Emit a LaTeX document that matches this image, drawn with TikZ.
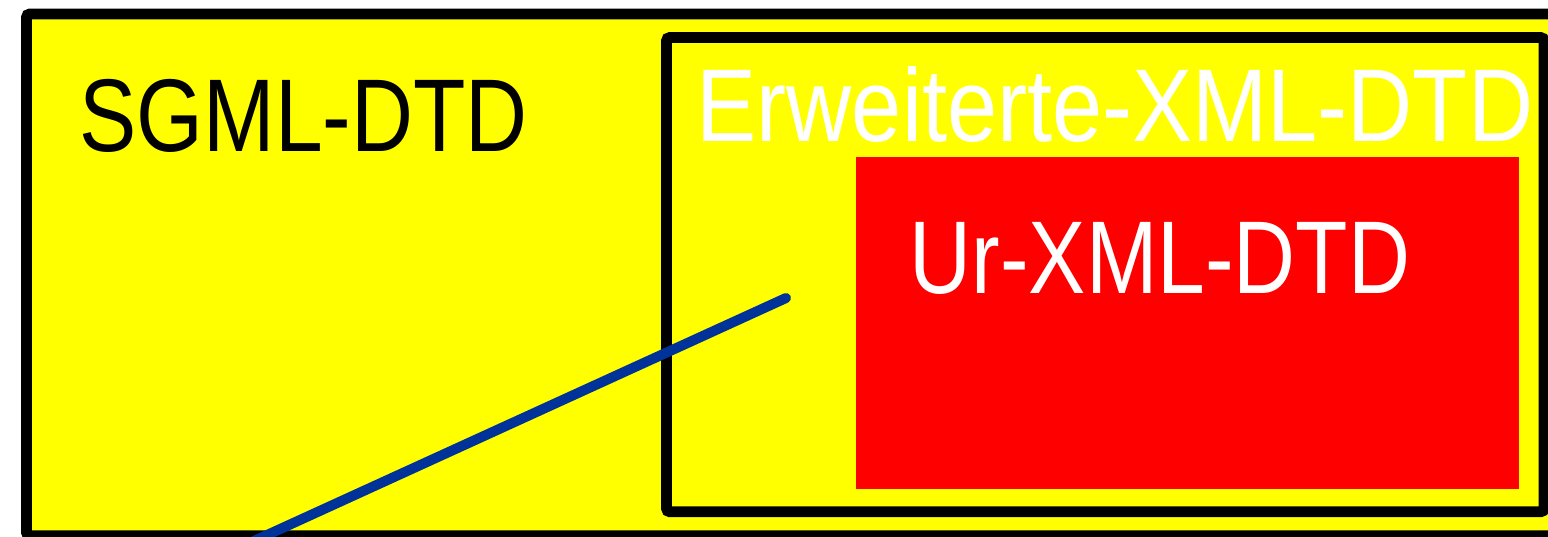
\documentclass[tikz,border=0pt]{standalone}
\usepackage{fontspec}
\setmainfont{Liberation Sans}
\newfontfamily\dtdfont[FakeStretch=0.83]{Liberation Sans}
\newfontfamily\dtdwidefont[FakeStretch=0.872]{Liberation Sans}
\usetikzlibrary{positioning}
\definecolor{dtdyellow}{HTML}{FFFF00}
\definecolor{dtdred}{HTML}{FF0000}
\definecolor{linkblue}{HTML}{003399}

\begin{document}
\begin{tikzpicture}[
    x=0.01cm, y=-0.01cm,
    frame/.style={draw=black, line width=3.1pt, fill=dtdyellow, rounded corners=1pt, inner sep=0pt, outer sep=0pt, anchor=north west},
    core/.style={fill=dtdred, inner sep=0pt, outer sep=0pt, anchor=north west},
    dtdtext/.style={inner sep=0pt, anchor=base west, font=\dtdfont\fontsize{29.4}{32}\selectfont},
    link/.style={draw=linkblue, line width=2.85pt, line cap=round},
]
\useasboundingbox (0,0) rectangle (1548,536);

% SGML level, cut off on the right and below
\node[frame, minimum width=15.4cm, minimum height=5.215cm] (sgml) at (26.5,14) {};
\node[dtdtext] (sgmltext) at (79,151) {SGML-DTD};

% extended XML level
\node[frame, minimum width=8.77cm, minimum height=4.74cm] (xmlext) at (666.5,37.5) {};
\node[dtdtext, text=white, font=\dtdwidefont\fontsize{29.4}{32}\selectfont] (xmlexttext) at (696,141) {Erweiterte-XML-DTD};

% original XML level
\node[core, minimum width=6.63cm, minimum height=3.32cm] (xmlcore) at (856,157) {};
\node[dtdtext, text=white] (xmlcoretext) at (909,293) {Ur-XML-DTD};

% blue line, running out of the picture
\coordinate (linkend) at (786,298);
\coordinate (linkstart) at (243,546);
\draw[link] (linkstart) -- (linkend);

\end{tikzpicture}
\end{document}
